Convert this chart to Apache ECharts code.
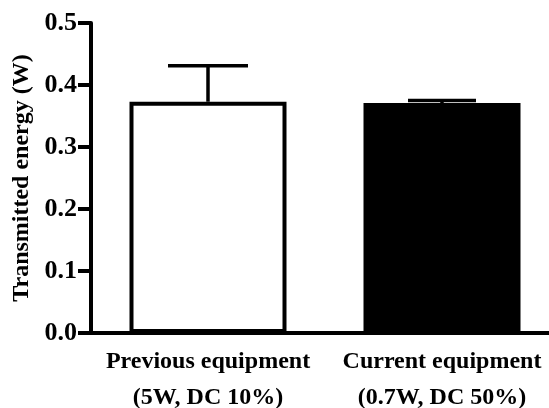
<!DOCTYPE html>
<html>
<head>
<meta charset="utf-8">
<script src="https://cdn.jsdelivr.net/npm/echarts@6/dist/echarts.min.js"></script>
<style>
  html, body { margin: 0; padding: 0; background: #fff; }
  #chart { width: 549px; height: 408px; }
</style>
</head>
<body>
<div id="chart"></div>
<script>
// Transmitted energy by equipment: mean with upper error (SD)
const categories = ['Previous equipment\n(5W, DC 10%)', 'Current equipment\n(0.7W, DC 50%)'];
const meanValues = [0.373, 0.371];
const upperValues = [0.431, 0.375];
const yTicks = [0.0, 0.1, 0.2, 0.3, 0.4, 0.5];

const FONT = '"Liberation Serif", "Times New Roman", serif';
const capHalfWidths = [40, 34];

const chart = echarts.init(document.getElementById('chart'));

chart.setOption({
  animation: false,
  backgroundColor: '#fff',
  grid: {
    left: 91, width: 468, top: 23, bottom: 75,
    containLabel: false, outerBoundsMode: 'none'
  },
  xAxis: {
    type: 'category',
    data: categories,
    axisLine: { lineStyle: { color: '#000', width: 4 } },
    axisTick: { alignWithLabel: true, length: 9, lineStyle: { color: '#000', width: 4 } },
    axisLabel: {
      interval: 0, hideOverlap: false,
      color: '#000', fontFamily: FONT, fontWeight: 'bold', fontSize: 24,
      lineHeight: 36, margin: 11
    }
  },
  yAxis: {
    type: 'value',
    min: yTicks[0],
    max: yTicks[yTicks.length - 1],
    interval: 0.1,
    name: 'Transmitted energy (W)',
    nameLocation: 'middle',
    nameGap: 53,
    nameTextStyle: { color: '#000', fontFamily: FONT, fontWeight: 'bold', fontSize: 24 },
    axisLine: { show: true, lineStyle: { color: '#000', width: 4 } },
    axisTick: { show: true, length: 13, lineStyle: { color: '#000', width: 4 } },
    splitLine: { show: false },
    axisLabel: {
      color: '#000', fontFamily: FONT, fontWeight: 'bold', fontSize: 26, margin: 14,
      formatter: v => v.toFixed(1)
    }
  },
  series: [
    {
      type: 'bar',
      barWidth: 157,
      data: meanValues.map((v, i) => ({
        value: v,
        itemStyle: i === 0
          ? { color: '#fff', borderColor: '#000', borderWidth: 4 }
          : { color: '#000', borderColor: '#000', borderWidth: 0 }
      })),
      z: 2
    },
    {
      type: 'custom',
      z: 3,
      data: meanValues.map((v, i) => [i, v, upperValues[i]]),
      renderItem: function (params, api) {
        const i = api.value(0);
        const base = api.coord([i, api.value(1)]);
        const top = api.coord([i, api.value(2)]);
        const hw = capHalfWidths[params.dataIndex];
        const style = { stroke: '#000', lineWidth: 3.5 };
        return {
          type: 'group',
          children: [
            { type: 'line', shape: { x1: base[0], y1: base[1], x2: top[0], y2: top[1] }, style },
            { type: 'line', shape: { x1: top[0] - hw, y1: top[1], x2: top[0] + hw, y2: top[1] }, style }
          ]
        };
      }
    }
  ]
});
</script>
</body>
</html>
